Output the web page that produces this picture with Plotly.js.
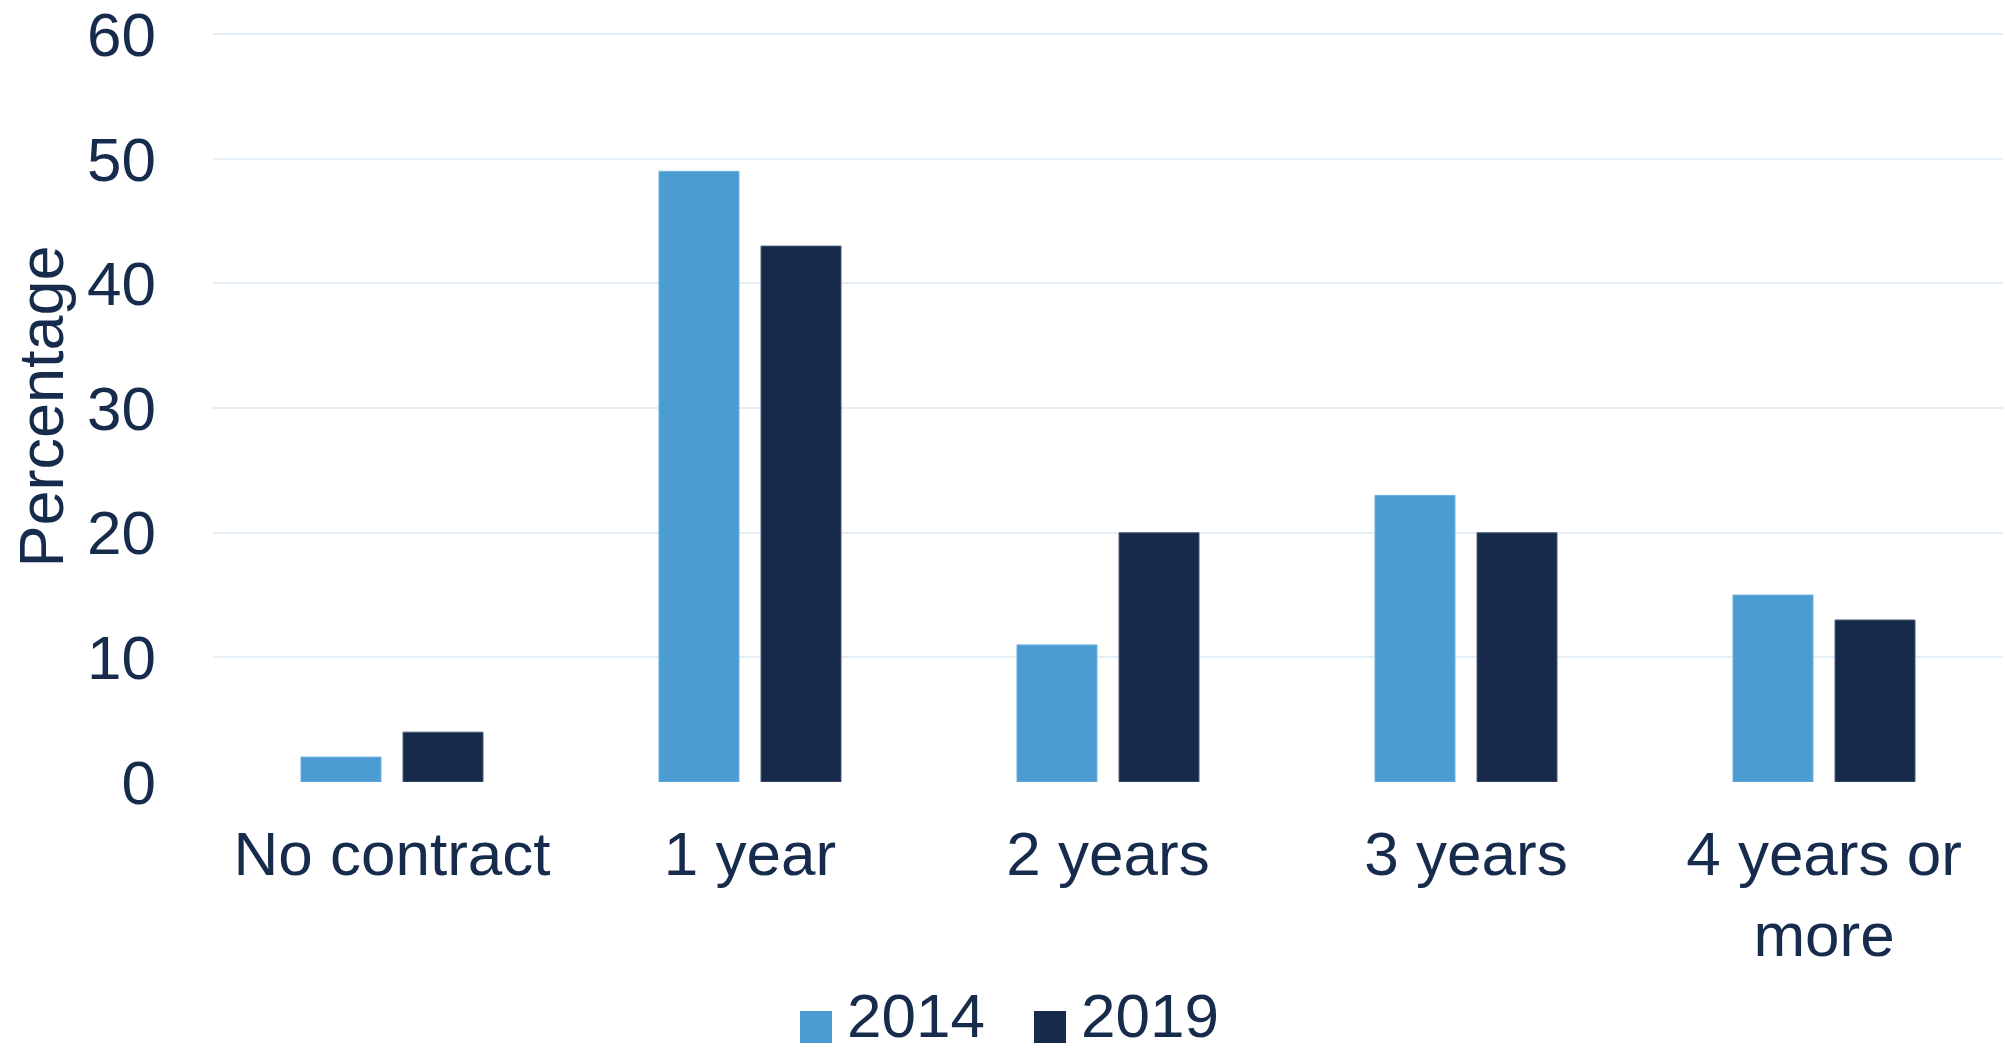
<!DOCTYPE html>
<html>
<head>
<meta charset="utf-8">
<script src="https://cdn.plot.ly/plotly-3.0.1.min.js"></script>
<style>
  html, body { margin: 0; padding: 0; background: #ffffff; }
  #chart { width: 2005px; height: 1052px; }
</style>
</head>
<body>
<div id="chart"></div>
<script>
// ---- data ----
const categories = ["No contract", "1 year", "2 years", "3 years", "4 years or<br>more"];
const values2014 = [2, 49, 11, 23, 15];
const values2019 = [4, 43, 20, 20, 13];
const seriesNames = ["2014", "2019"];
const yTicks = [0, 10, 20, 30, 40, 50, 60];

// ---- styles ----
const FONT = "Liberation Sans, Arial, Helvetica, sans-serif";
const TEXT = "#172B4D";
const C2014 = "#4B9CD3";
const C2019 = "#172A4C";
const W = 2005, H = 1052;
const M = { l: 213, r: 2, t: 31, b: 270 };
const plotW = W - M.l - M.r, plotH = H - M.t - M.b;
const px = x => (x - M.l) / plotW;      // pixel -> paper x
const py = y => (H - M.b - y) / plotH;  // pixel -> paper y

const traces = [
  { type: "bar", name: seriesNames[0], x: categories, y: values2014,
    marker: { color: C2014, line: { color: "#6FB0DE", width: 1 } }, showlegend: false, hoverinfo: "none" },
  { type: "bar", name: seriesNames[1], x: categories, y: values2019,
    marker: { color: C2019, line: { color: "#4A5B78", width: 1 } }, showlegend: false, hoverinfo: "none" }
];

// custom legend (large swatches)
const legendItems = [
  { name: seriesNames[0], color: C2014, sx: 800, tx: 846 },
  { name: seriesNames[1], color: C2019, sx: 1034, tx: 1080 }
];
const shapes = legendItems.map(it => ({
  type: "rect", xref: "paper", yref: "paper",
  x0: px(it.sx), x1: px(it.sx + 32), y0: py(1043), y1: py(1011),
  fillcolor: it.color, line: { width: 0 }
}));
const annotations = legendItems.map(it => ({
  xref: "paper", yref: "paper", x: px(it.tx), y: py(1051),
  xanchor: "left", yanchor: "bottom", showarrow: false, borderpad: 0,
  text: it.name, font: { family: FONT, size: 62, color: TEXT }
}));

const layout = {
  width: W, height: H,
  margin: M,
  paper_bgcolor: "#ffffff", plot_bgcolor: "#ffffff",
  font: { family: FONT, size: 62, color: TEXT },
  barmode: "group", bargap: 0.43, bargroupgap: 0.216,
  showlegend: false,
  xaxis: {
    type: "category", showgrid: false, showline: false, zeroline: false,
    ticks: "", ticklabelstandoff: 30, automargin: false,
    tickfont: { family: FONT, size: 62, color: TEXT }
  },
  yaxis: {
    range: [0, 60.26], tickvals: yTicks, ticktext: yTicks.map(String),
    showgrid: true, gridcolor: "#E4EEF7", gridwidth: 2,
    zeroline: false, showline: false, ticks: "", ticklabelstandoff: 56,
    ticklabeloverflow: "allow",
    automargin: false,
    tickfont: { family: FONT, size: 62, color: TEXT },
    title: { text: "Percentage", standoff: 2, font: { family: FONT, size: 63, color: TEXT } }
  },
  shapes: shapes,
  annotations: annotations
};

Plotly.newPlot("chart", traces, layout, { staticPlot: true, displayModeBar: false });
</script>
</body>
</html>
